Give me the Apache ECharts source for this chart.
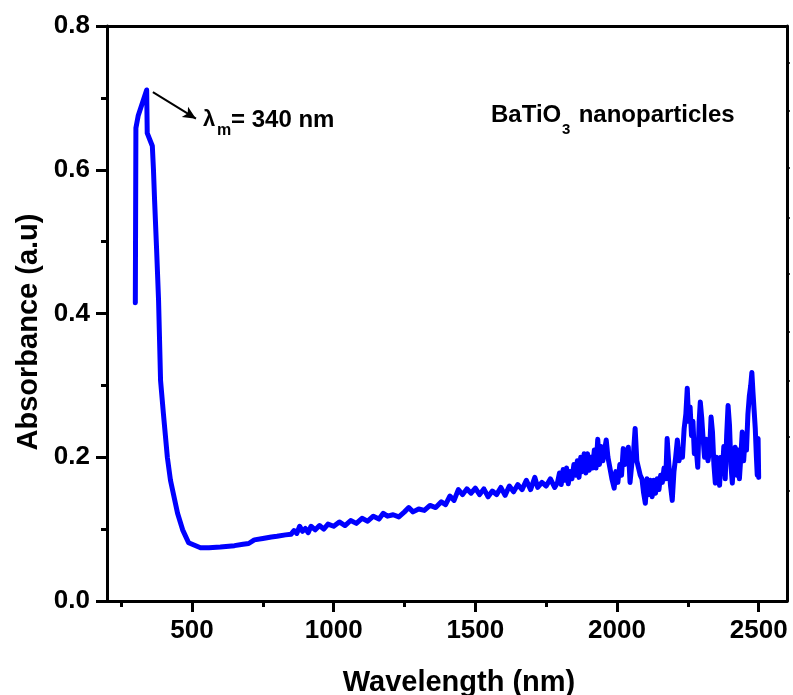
<!DOCTYPE html>
<html>
<head>
<meta charset="utf-8">
<script src="https://cdn.jsdelivr.net/npm/echarts@6/dist/echarts.min.js"></script>
<style>
html,body{margin:0;padding:0;background:#fff;}
#c{width:793px;height:695px;}
</style>
</head>
<body>
<div id="c"></div>
<script>
// ---- data ----
const wavelength = [
 300,302,310,340,342,360,364,368,375,382,
 389,399,413,424,449,467,488,530,560,600,
 650,680,700,720,750,780,800,830,850,860,
 870,880,890,900,910,920,935,950,965,980,
 1000,1020,1040,1060,1080,1100,1120,1140,1160,1175,
 1190,1210,1230,1250,1265,1280,1300,1320,1340,1360,
 1380,1395,1410,1425,1440,1455,1470,1485,1500,1515,
 1530,1545,1560,1575,1590,1605,1620,1635,1650,1665,
 1680,1695,1710,1720,1735,1750,1765,1780,
 1790,1797,1803,1810,1816,1822,1828,1835,1841,1848,
 1854,1860,1866,1872,1878,1884,1890,1896,1902,1908,
 1914,1920,1926,1932,1938,1944,1950,1956,1962,1968,
 1975,1982,1990,1996,2003,2010,2016,2022,2028,2034,
 2040,2046,2052,2058,2064,2070,2076,2082,2088,2094,
 2100,2106,2112,2118,2124,2130,2136,2142,2148,2154,
 2160,2166,2172,2177,2183,2189,2195,2201,2207,2213,
 2219,2225,2231,2237,2243,2248,2253,2258,2263,2268,
 2273,2279,2285,2290,2294,2299,2304,2309,2315,2321,
 2327,2332,2337,2342,2347,2352,2357,2362,2367,2372,
 2377,2382,2387,2392,2397,2402,2407,2412,2417,2422,
 2427,2432,2437,2442,2447,2452,2457,2462,2467,2472,
 2476,2480,2484,2488,2492,2495,2498,2500
];
const absorbance = [
 0.415,0.658,0.675,0.711,0.651,0.633,0.600,0.557,0.490,0.418,
 0.307,0.261,0.200,0.168,0.122,0.099,0.081,0.074,0.074,0.075,
 0.077,0.079,0.080,0.085,0.087,0.089,0.090,0.092,0.093,0.098,
 0.094,0.104,0.097,0.101,0.095,0.104,0.099,0.105,0.100,0.107,
 0.104,0.110,0.105,0.112,0.108,0.115,0.111,0.118,0.114,0.122,
 0.118,0.120,0.117,0.124,0.130,0.124,0.128,0.126,0.133,0.130,
 0.138,0.134,0.146,0.140,0.155,0.148,0.156,0.150,0.157,0.148,
 0.156,0.145,0.153,0.148,0.158,0.147,0.160,0.152,0.162,0.155,
 0.168,0.155,0.172,0.158,0.165,0.160,0.170,0.158,
 0.165,0.178,0.162,0.183,0.168,0.185,0.163,0.180,0.170,0.190,
 0.175,0.195,0.172,0.200,0.180,0.205,0.178,0.205,0.182,0.200,
 0.185,0.210,0.185,0.225,0.190,0.215,0.195,0.210,0.224,0.200,
 0.185,0.170,0.157,0.180,0.165,0.190,0.175,0.212,0.190,0.205,
 0.214,0.165,0.190,0.205,0.240,0.195,0.185,0.175,0.170,0.150,
 0.136,0.170,0.148,0.168,0.145,0.168,0.150,0.170,0.155,0.175,
 0.165,0.185,0.170,0.226,0.190,0.160,0.140,0.180,0.200,0.224,
 0.195,0.210,0.200,0.240,0.260,0.296,0.250,0.270,0.230,0.250,
 0.205,0.215,0.186,0.250,0.277,0.255,0.225,0.200,0.225,0.195,
 0.210,0.256,0.235,0.190,0.164,0.200,0.175,0.161,0.200,0.180,
 0.215,0.170,0.230,0.272,0.245,0.190,0.164,0.200,0.214,0.175,
 0.210,0.170,0.200,0.235,0.195,0.225,0.210,0.260,0.285,0.300,
 0.318,0.290,0.265,0.240,0.200,0.175,0.226,0.172
];
const xMajorTicks = [500, 1000, 1500, 2000, 2500];
const xMinorTicks = [250, 750, 1250, 1750, 2250];
const rightTicks = [0.154, 0.228, 0.307, 0.374, 0.456, 0.533, 0.603, 0.682, 0.749];
const peakArrow = [[362, 0.708], [514, 0.671]];
const xTitle = 'Wavelength (nm)';
const yTitle = 'Absorbance (a.u)';
const sampleName = ['BaTiO', '3', ' nanoparticles'];
const peakLabel = ['λ', 'm', '= 340 nm'];

const seriesData = wavelength.map((w, i) => [w, absorbance[i]]);

const FONT = '"Liberation Sans", Arial, Helvetica, sans-serif';
const chart = echarts.init(document.getElementById('c'), null, {renderer: 'canvas'});

const axisLineStyle = {color: '#000', width: 3};

chart.setOption({
  animation: false,
  backgroundColor: '#fff',
  grid: {left: 107, top: 26, right: 6, bottom: 94, containLabel: false},
  xAxis: [
    {
      type: 'value', position: 'bottom', min: 200, max: 2600,
      axisLine: {show: true, lineStyle: axisLineStyle},
      axisTick: {show: true, customValues: xMajorTicks, length: 11, lineStyle: {color: '#000', width: 3}},
      axisLabel: {show: true, customValues: xMajorTicks, margin: 17, color: '#000', fontSize: 26, fontWeight: 'bold', fontFamily: FONT,
                  formatter: v => String(v)},
      splitLine: {show: false}
    },
    {
      type: 'value', position: 'bottom', min: 200, max: 2600,
      axisLine: {show: false},
      axisTick: {show: true, customValues: xMinorTicks, length: 6, lineStyle: {color: '#000', width: 3}},
      axisLabel: {show: false},
      splitLine: {show: false}
    },
    {
      type: 'value', position: 'top', min: 200, max: 2600,
      axisLine: {show: true, lineStyle: axisLineStyle},
      axisTick: {show: false},
      axisLabel: {show: false},
      splitLine: {show: false}
    }
  ],
  yAxis: [
    {
      type: 'value', position: 'left', min: 0, max: 0.8, interval: 0.2,
      axisLine: {show: true, lineStyle: axisLineStyle},
      axisTick: {show: true, length: 11, lineStyle: {color: '#000', width: 3}},
      minorTick: {show: true, splitNumber: 2, length: 6, lineStyle: {color: '#000', width: 3}},
      axisLabel: {show: true, margin: 17, color: '#000', fontSize: 26, fontWeight: 'bold', fontFamily: FONT,
                  formatter: v => v.toFixed(1)},
      splitLine: {show: false},
      minorSplitLine: {show: false}
    },
    {
      type: 'value', position: 'right', min: 0, max: 0.8,
      axisLine: {show: true, lineStyle: axisLineStyle},
      axisTick: {show: true, customValues: rightTicks, length: 3, lineStyle: {color: '#000', width: 1.5}},
      axisLabel: {show: false},
      splitLine: {show: false}
    }
  ],
  series: [{
    type: 'line',
    xAxisIndex: 0, yAxisIndex: 0,
    data: seriesData,
    showSymbol: false,
    smooth: false,
    lineStyle: {color: '#0000ff', width: 5, join: 'round', cap: 'round'},
    itemStyle: {color: '#0000ff'},
    markLine: {
      silent: true,
      symbol: ['none', 'arrow'],
      symbolSize: [9, 13],
      label: {show: false},
      lineStyle: {color: '#000', width: 2, type: 'solid'},
      data: [[{coord: peakArrow[0]}, {coord: peakArrow[1]}]]
    }
  }],
  graphic: [
    {type: 'text', x: 459, y: 683, style: {text: xTitle, align: 'center', verticalAlign: 'middle',
      font: 'bold 29px ' + FONT, fill: '#000'}},
    {type: 'text', x: 29, y: 332, rotation: Math.PI / 2, style: {text: yTitle, align: 'center', verticalAlign: 'middle',
      font: 'bold 29px ' + FONT, fill: '#000'}},
    {type: 'text', x: 203, y: 120, style: {text: peakLabel[0], align: 'left', verticalAlign: 'middle',
      font: 'bold 22px ' + FONT, fill: '#000'}},
    {type: 'text', x: 217, y: 131, style: {text: peakLabel[1], align: 'left', verticalAlign: 'middle',
      font: 'bold 16px ' + FONT, fill: '#000'}},
    {type: 'text', x: 231, y: 120, style: {text: peakLabel[2], align: 'left', verticalAlign: 'middle',
      font: 'bold 24px ' + FONT, fill: '#000'}},
    {type: 'text', x: 491, y: 115, style: {text: sampleName[0], align: 'left', verticalAlign: 'middle',
      font: 'bold 24px ' + FONT, fill: '#000'}},
    {type: 'text', x: 562, y: 130, style: {text: sampleName[1], align: 'left', verticalAlign: 'middle',
      font: 'bold 15px ' + FONT, fill: '#000'}},
    {type: 'text', x: 572, y: 115, style: {text: sampleName[2], align: 'left', verticalAlign: 'middle',
      font: 'bold 24px ' + FONT, fill: '#000'}}
  ]
});
</script>
</body>
</html>
